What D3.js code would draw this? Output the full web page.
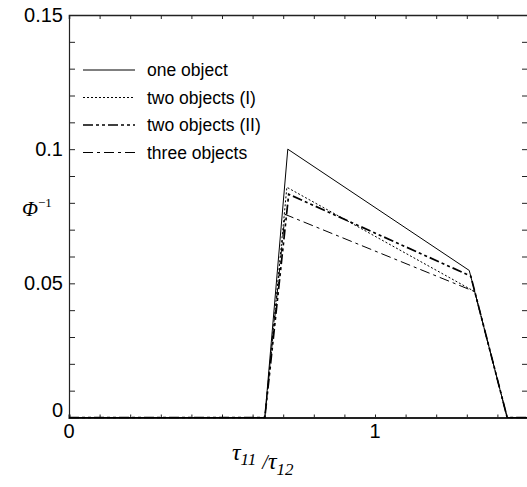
<!DOCTYPE html>
<html>
<head>
<meta charset="utf-8">
<script src="https://cdn.jsdelivr.net/npm/d3@7"></script>
<style>
  body { margin: 0; background: #fff; }
  svg { display: block; }
</style>
</head>
<body>
<div id="chart"></div>
<script>
// chart data
const seriesNames = ["one object", "two objects (I)", "two objects (II)", "three objects"];
const oneObject = [[0, 0], [0.64, 0], [0.715, 0.1], [1.308, 0.0548], [1.432, 0], [1.5, 0]];
const twoObjectsI = [[0, 0], [0.64, 0], [0.712, 0.0858], [1.326, 0.0469], [1.432, 0], [1.5, 0]];
const twoObjectsII = [[0, 0], [0.64, 0], [0.718, 0.0832], [1.313, 0.0527], [1.432, 0], [1.5, 0]];
const threeObjects = [[0, 0], [0.64, 0], [0.706, 0.0757], [1.326, 0.0469], [1.432, 0], [1.5, 0]];
const xTickLabels = [0, 1];
const yTickLabels = [0, 0.05, 0.1, 0.15];

const width = 527, height = 487;
const svg = d3.select("#chart").append("svg")
  .attr("width", width)
  .attr("height", height);

const x = d3.scaleLinear().domain([0, 1.5]).range([69, 528]);
const y = d3.scaleLinear().domain([0, 0.15]).range([417.5, 15]);

// line styles for each series
const styles = [
  { w: 1, dash: null },
  { w: 1, dash: "2,2" },
  { w: 1.7, dash: "10,3,3,3,3,3" },
  { w: 1, dash: "10,4,3,4" }
];
const allSeries = [oneObject, twoObjectsI, twoObjectsII, threeObjects];

const line = d3.line().x(d => x(d[0])).y(d => y(d[1]));

// frame and ticks
const minorX = d3.range(0, 1.5001, 0.1);
const minorY = d3.range(0, 0.15001, 0.01);

const axisColor = "#222";
// bottom
svg.append("g").attr("transform", `translate(0,${y(0)})`)
  .call(d3.axisBottom(x).tickValues(minorX).tickSize(-3).tickFormat(""))
  .call(g => g.select(".domain").attr("stroke-width", 2));
// top
svg.append("g").attr("transform", `translate(0,${y(0.15)})`)
  .call(d3.axisTop(x).tickValues(minorX).tickSize(-4).tickFormat(""))
  .call(g => g.select(".domain").attr("stroke-width", 1.5));
// left
svg.append("g").attr("transform", `translate(${x(0)},0)`)
  .call(d3.axisLeft(y).tickValues(minorY).tickSize(-6).tickFormat(""))
  .call(g => g.select(".domain").attr("stroke-width", 1.2));
// right
svg.append("g").attr("transform", `translate(${x(1.5)},0)`)
  .call(d3.axisRight(y).tickValues(minorY).tickSize(-6).tickFormat(""));

svg.selectAll(".domain, .tick line").attr("stroke", axisColor);

// tick labels
svg.append("g").selectAll("text")
  .data(yTickLabels)
  .join("text")
  .attr("x", 63)
  .attr("y", d => d === 0 ? y(d) - 1 : y(d) + 7)
  .attr("text-anchor", "end")
  .attr("font-family", "Liberation Sans, Arial, sans-serif")
  .attr("font-size", 20)
  .text(d => d);

svg.append("g").selectAll("text")
  .data(xTickLabels)
  .join("text")
  .attr("x", d => x(d))
  .attr("y", 438)
  .attr("text-anchor", "middle")
  .attr("font-family", "Liberation Sans, Arial, sans-serif")
  .attr("font-size", 20)
  .text(d => d);

// series lines
svg.append("g").selectAll("path")
  .data(allSeries)
  .join("path")
  .attr("d", line)
  .attr("fill", "none")
  .attr("stroke", "#000")
  .attr("stroke-width", (d, i) => styles[i].w)
  .attr("stroke-dasharray", (d, i) => styles[i].dash);

// legend
const legend = svg.append("g");
const rowY = i => 70 + i * 27.5;
legend.selectAll("line")
  .data(seriesNames)
  .join("line")
  .attr("x1", 83).attr("x2", 135)
  .attr("y1", (d, i) => rowY(i)).attr("y2", (d, i) => rowY(i))
  .attr("stroke", "#000")
  .attr("stroke-width", (d, i) => styles[i].w)
  .attr("stroke-dasharray", (d, i) => styles[i].dash);
legend.selectAll("text")
  .data(seriesNames)
  .join("text")
  .attr("x", 147)
  .attr("y", (d, i) => rowY(i) + 6)
  .attr("font-family", "Liberation Sans, Arial, sans-serif")
  .attr("font-size", 17.5)
  .text(d => d);

// axis titles
const yTitle = svg.append("text")
  .attr("x", 22).attr("y", 216)
  .attr("font-family", "Liberation Serif, Times New Roman, serif")
  .attr("font-style", "italic")
  .attr("font-size", 21);
yTitle.append("tspan").text("\u03A6");
yTitle.append("tspan").attr("dy", -9).attr("font-size", 13).attr("font-style", "normal").text("\u22121");

const xTitle = svg.append("text")
  .attr("x", 232).attr("y", 460)
  .attr("font-family", "Liberation Serif, Times New Roman, serif")
  .attr("font-style", "italic")
  .attr("font-size", 24);
xTitle.append("tspan").text("\u03C4");
xTitle.append("tspan").attr("dy", 5).attr("font-size", 17).text("11");
xTitle.append("tspan").attr("dx", 6).attr("dy", 4).attr("font-size", 20).text("/");
xTitle.append("tspan").attr("dy", 0).text("\u03C4");
xTitle.append("tspan").attr("dy", 6).attr("font-size", 17).text("12");
</script>
</body>
</html>
